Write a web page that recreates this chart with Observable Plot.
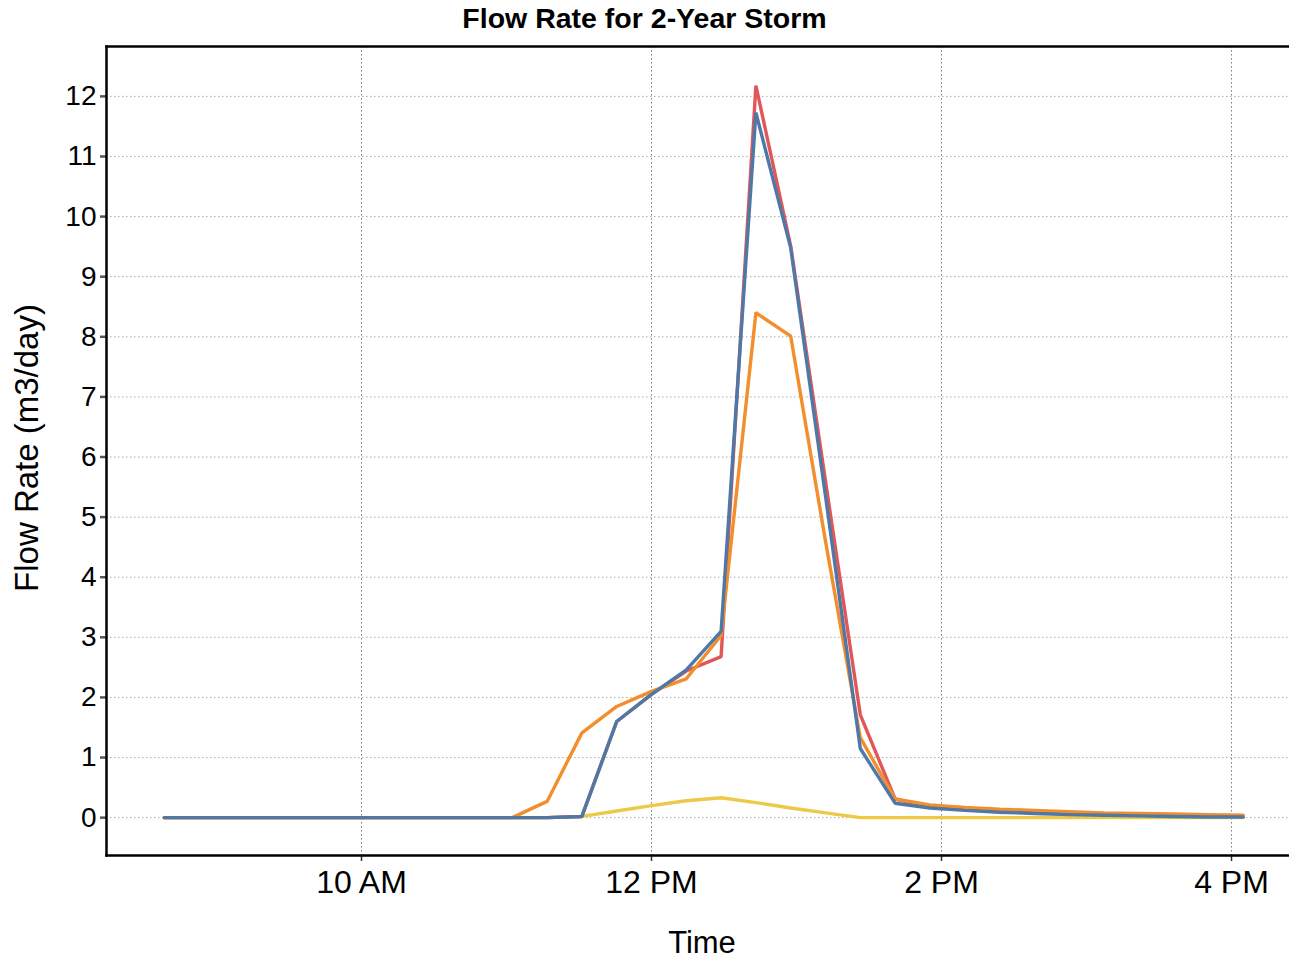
<!DOCTYPE html>
<html>
<head>
<meta charset="utf-8">
<script src="https://cdn.jsdelivr.net/npm/d3@7"></script>
<script src="https://cdn.jsdelivr.net/npm/@observablehq/plot@0.6"></script>
<style>
  html, body { margin: 0; padding: 0; background: #fff; }
  #title { width: 1289px; height: 38px; line-height: 37px; text-align: center;
    font-family: "Liberation Sans", Arial, sans-serif; font-weight: bold; font-size: 28.5px; color: #000; }
  #chart svg { display: block; }
</style>
</head>
<body>
<div id="title">Flow Rate for 2-Year Storm</div>
<div id="chart"></div>
<script>
// Time stamps (hh:mm:ss) of each sample
const times = ["08:38:24","08:52:48","09:07:12","09:21:36","09:36:00","09:50:24","10:04:48","10:19:12",
  "10:33:36","10:48:00","11:02:24","11:16:48","11:31:12","11:45:36","12:00:00","12:14:24",
  "12:28:48","12:43:12","12:57:36","13:12:00","13:26:24","13:40:48","13:55:12","14:09:36",
  "14:24:00","14:38:24","14:52:48","15:07:12","15:21:36","15:36:00","15:50:24","16:04:48"];

const seriesNames = ["Series 1", "Series 2", "Series 3", "Series 4"];
const seriesColors = ["#edc948", "#e15759", "#f28e2b", "#4e79a7"];

// Flow rate values (m3/day)
const series1 = [0,0,0,0,0,0,0,0,0,0,0,0,0.02,0.11,0.20,0.28,0.33,0.25,0.16,0.08,0,0,0,0,0,0,0,0,0,0,0,0];
const series2 = [0,0,0,0,0,0,0,0,0,0,0,0,0.02,1.60,2.05,2.44,2.68,12.18,9.51,5.60,1.71,0.31,0.18,0.14,0.11,0.09,0.07,0.06,0.05,0.04,0.03,0.02];
const series3 = [0,0,0,0,0,0,0,0,0,0,0,0.27,1.41,1.85,2.10,2.31,3.03,8.40,8.01,4.60,1.33,0.31,0.21,0.17,0.14,0.12,0.10,0.08,0.07,0.06,0.05,0.04];
const series4 = [0,0,0,0,0,0,0,0,0,0,0,0,0.02,1.60,2.05,2.46,3.10,11.73,9.48,5.35,1.15,0.24,0.16,0.12,0.09,0.07,0.05,0.04,0.03,0.02,0.01,0.01];

const xTickTimes = ["10:00:00", "12:00:00", "14:00:00", "16:00:00"];
const yTicks = [0,1,2,3,4,5,6,7,8,9,10,11,12];
const xDomainTimes = ["08:14:29", "16:24:00"];
const yDomain = [-0.63, 12.83];

const toDate = s => { const [h,m,sec] = s.split(":").map(Number); return new Date(Date.UTC(2000,0,1,h,m,sec)); };
const allSeries = [series1, series2, series3, series4];
const data = [];
allSeries.forEach((vals, i) => vals.forEach((v, k) => data.push({time: toDate(times[k]), value: v, series: seriesNames[i]})));
const xTicks = xTickTimes.map(toDate);
const xDomain = xDomainTimes.map(toDate);
const fmt = d3.utcFormat("%-I %p");

const lineMarks = seriesNames.map((name, i) =>
  Plot.line(data.filter(d => d.series === name), {x: "time", y: "value", stroke: seriesColors[i], strokeWidth: 3.4, strokeLinejoin: "miter"}));

const chart = Plot.plot({
  width: 1289, height: 921,
  marginTop: 8, marginLeft: 106, marginRight: 0, marginBottom: 104,
  style: {fontFamily: "'Liberation Sans', Arial, sans-serif", background: "white", color: "#000"},
  x: {type: "utc", domain: xDomain},
  y: {domain: yDomain},
  marks: [
    Plot.gridX(xTicks, {stroke: "#777", strokeOpacity: 1, strokeDasharray: "1.5,2.5", strokeWidth: 1}),
    Plot.gridY(yTicks, {stroke: "#aaa", strokeOpacity: 1, strokeDasharray: "1.5,2.5", strokeWidth: 1}),
    ...lineMarks,
    Plot.axisY(yTicks, {tickSize: 6, tickPadding: 4, fontSize: 28, stroke: "#555", strokeWidth: 2.5, label: null, fill: "#000", tickFormat: d3.format("d")}),
    Plot.axisX(xTicks, {tickSize: 6, tickPadding: 9, fontSize: 32, stroke: "#333", strokeWidth: 1.5, label: null, tickFormat: fmt, fill: "#000"}),
    Plot.frame({anchor: "left", stroke: "#000", strokeWidth: 2.5}),
    Plot.frame({anchor: "top", stroke: "#000", strokeWidth: 2.5}),
    Plot.frame({anchor: "bottom", stroke: "#000", strokeWidth: 2.5}),
    Plot.text(["Time"], {frameAnchor: "bottom", dx: 4, dy: 97, fontSize: 31, fill: "#000"}),
    Plot.text(["Flow Rate (m3/day)"], {frameAnchor: "left", textAnchor: "middle", dx: -79, dy: -3, rotate: -90, fontSize: 33, fill: "#000"})
  ]
});
document.getElementById("chart").appendChild(chart);
</script>
</body>
</html>
